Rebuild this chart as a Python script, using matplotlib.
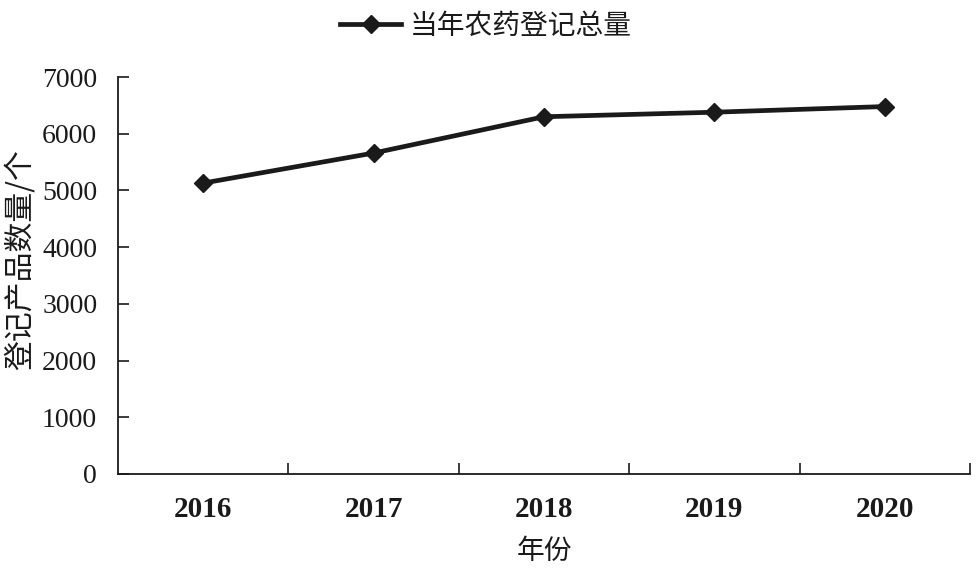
"""Annual pesticide registration totals, 2016-2020."""
import matplotlib

matplotlib.use("Agg")
import matplotlib.pyplot as plt
import numpy as np

years = ["2016", "2017", "2018", "2019", "2020"]
totals = [5130, 5660, 6300, 6380, 6480]
series_name = "当年农药登记总量"
y_label = "登记产品数量/个"
x_label = "年份"
y_ticks = [0, 1000, 2000, 3000, 4000, 5000, 6000, 7000]

cjk = ["Noto Sans CJK SC", "DejaVu Sans"]
serif = ["Liberation Serif", "DejaVu Serif"]
ink = "#1a1a1a"


def main() -> None:
    fig = plt.figure(figsize=(9.78, 5.75), dpi=100)
    ax = fig.add_axes([0.1207, 0.1757, 0.8711, 0.6903])

    x = np.arange(len(years))
    line, = ax.plot(x, totals, color=ink, linewidth=3.4, marker="D",
                    markersize=9.5, markerfacecolor=ink, markeredgecolor=ink,
                    label=series_name)

    ax.set_xlim(-0.5, len(years) - 0.5)
    ax.set_ylim(0, 7000)

    for side in ("top", "right"):
        ax.spines[side].set_visible(False)
    for side in ("left", "bottom"):
        ax.spines[side].set_color(ink)
        ax.spines[side].set_linewidth(1.3)

    # category boundaries get the tick marks, labels sit at the centres
    ax.set_xticks(x + 0.5)
    ax.set_xticklabels([])
    ax.set_xticks(x, minor=True)
    ax.set_xticklabels(years, minor=True, fontfamily=serif, fontsize=21,
                       fontweight="bold", color=ink)
    ax.tick_params(axis="x", which="major", direction="in", length=8,
                   width=1.2, color=ink)
    ax.tick_params(axis="x", which="minor", length=0, pad=16)

    ax.set_yticks(y_ticks)
    ax.set_yticklabels([str(v) for v in y_ticks], fontfamily=serif,
                       fontsize=20, color=ink)
    ax.tick_params(axis="y", direction="in", length=8, width=1.2, color=ink,
                   pad=15)

    ax.set_xlabel(x_label, fontfamily=cjk, fontsize=20, color=ink)
    ax.xaxis.set_label_coords(0.5, -0.155)
    ax.set_ylabel(y_label, fontfamily=cjk, fontsize=21.5, color=ink)
    ax.yaxis.set_label_coords(-0.097, 0.54)

    fig.legend(handles=[line], loc="center", bbox_to_anchor=(0.497, 0.955),
               frameon=False, prop={"family": cjk, "size": 20},
               handlelength=2.2, handletextpad=0.3, labelcolor=ink)

    fig.savefig("out.png", dpi=100, facecolor="white")


if __name__ == "__main__":
    main()
